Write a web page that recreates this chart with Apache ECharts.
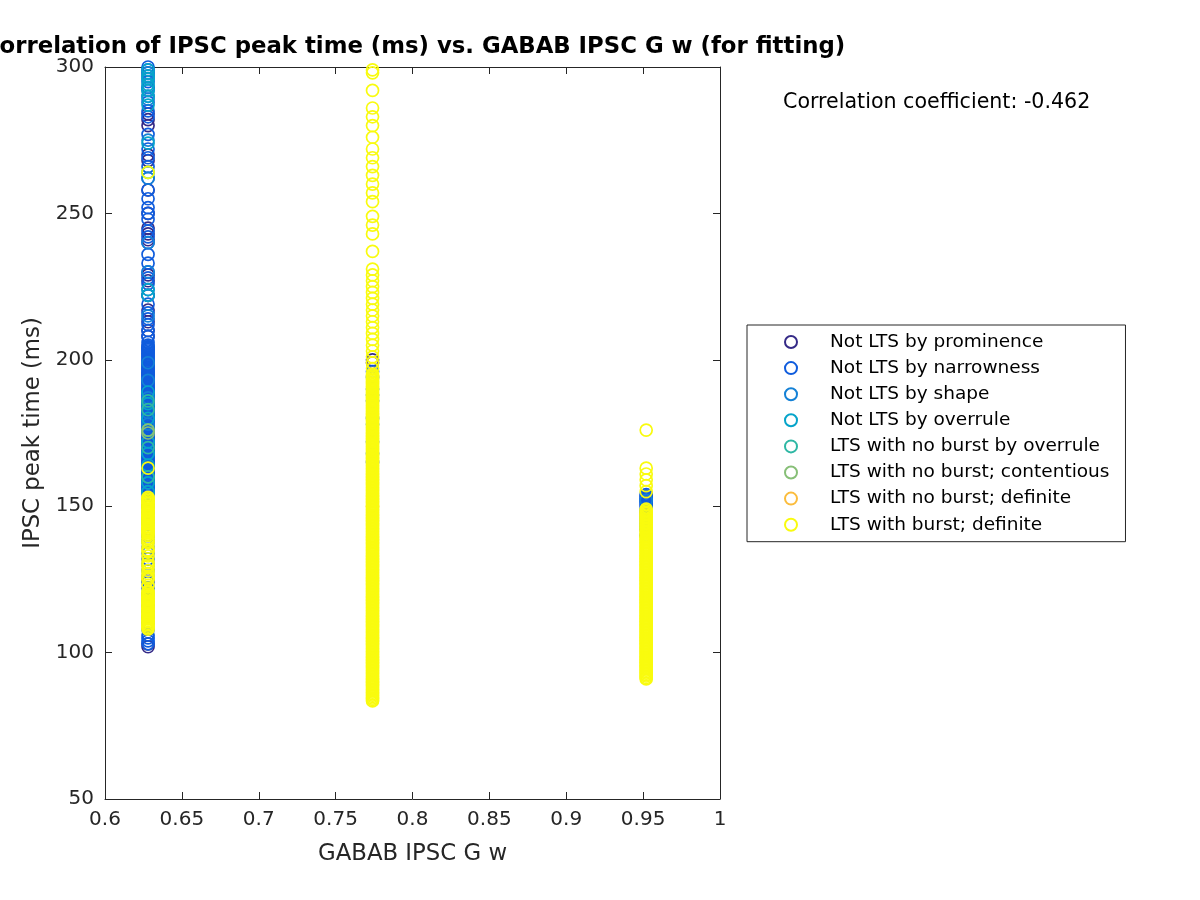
<!DOCTYPE html>
<html>
<head>
<meta charset="utf-8">
<script src="https://cdn.jsdelivr.net/npm/echarts@6/dist/echarts.min.js"></script>
<style>html,body{margin:0;padding:0;background:#fff;}#c{width:1200px;height:900px;}</style>
</head>
<body>
<div id="c"></div>
<script>
// x positions of the three columns (GABAB IPSC G w)
const xCols = [0.628, 0.774, 0.952];
const xTicks = [0.6, 0.65, 0.7, 0.75, 0.8, 0.85, 0.9, 0.95, 1];
const yTicks = [50, 100, 150, 200, 250, 300];

const seriesNames = [
  'Not LTS by prominence',
  'Not LTS by narrowness',
  'Not LTS by shape',
  'Not LTS by overrule',
  'LTS with no burst by overrule',
  'LTS with no burst; contentious',
  'LTS with no burst; definite',
  'LTS with burst; definite'
];
const seriesColors = ['#352a87', '#0f5cdd', '#1481d6', '#06a4ca', '#2eb7a4', '#87bf77', '#fbbc3c', '#f9fb0e'];

// IPSC peak time (ms) values per class, per column
const prominence = [
  [284, 282, 280, 270, 268, 258, 250, 245, 243, 241, 229, 227, 222, 217, 213, 210, 208, 204, 197, 195, 190, 185, 176, 165, 150, 140, 125, 103, 102],
  [200, 199],
  []
];
const narrowness = [
  [300, 299, 298, 297, 295, 293, 292, 290, 288, 285, 283, 277, 272, 269, 266, 262, 258, 255, 252, 250, 248, 244, 242, 240, 236, 233, 230, 228, 226, 224, 222, 219, 216, 214, 212, 210, 208, 206,
   205, 204.5, 204, 203.5, 203, 202.5, 202, 201.5, 201, 200.5, 200, 199.5, 199, 198.5, 198, 197.5, 197, 196.5, 196, 195.5,
   195, 194.5, 194, 193.5, 193, 192.5, 192, 191.5, 191, 190.5, 190, 189.5, 189, 188.5, 188, 187.5, 187, 186.5, 186, 185.5,
   185, 184.5, 184, 183.5, 183, 182.5, 182, 181.5, 181, 180.5, 180, 179.5, 179, 178.5, 178, 177.5, 177, 176.5, 176, 175.5,
   175, 174.5, 174, 173.5, 173, 172.5, 172, 171.5, 171, 170.5, 170, 169.5, 169, 168.5, 168, 167.5, 167, 166.5, 166, 165.5,
   165, 164.5, 164, 163.5, 163, 162.5, 162, 161.5, 161, 160.5, 160, 159.5, 159, 158.5, 158, 157.5, 157, 156.5, 156, 155.5,
   155, 154, 152, 150, 148, 146, 144, 142, 140, 138, 136, 134, 132, 130, 128, 126, 124, 122, 120, 118, 116, 114, 112, 110, 108, 106, 105, 104, 103],
  [196, 194, 190, 186, 180, 172, 165],
  [154, 153.5, 153, 152.5, 152, 151.5, 151, 150.5, 150, 149, 148, 147, 146, 145, 144, 142, 140]
];
const shape = [
  [298, 296, 293, 289, 275, 262, 240, 230, 215, 199, 193, 187, 182, 178, 172, 168, 163, 158, 155, 150, 145, 138, 130, 120, 112],
  [188, 178, 168],
  [152, 148, 143]
];
const overrule = [
  [299, 297, 296, 294, 292, 290, 287, 274, 264, 224, 222, 189, 185, 180, 176, 172, 168, 164, 160, 158, 155],
  [],
  []
];
const noBurstOverrule = [
  [186, 183, 176, 170, 160],
  [],
  []
];
const contentious = [
  [176, 175],
  [],
  []
];
const noBurstDefinite = [
  [142],
  [150],
  [147.5]
];
const burst = [
  [264, 163,
   153, 152.5, 152, 151.5, 151, 150.5, 150, 149.5, 149, 148.5, 148, 147.5, 147, 146.5, 146, 145.5, 145, 144.5, 144, 143.5,
   143, 142.5, 142, 141.5, 141, 140.5, 140, 139, 138, 137.5, 136, 135, 134.5, 133, 131, 130, 129.5, 128, 127, 126, 125.5,
   125, 123, 121, 120.5, 120, 119.5, 119, 118.5, 118, 117.5, 117, 116.5, 116, 115.5, 115, 114.5, 114, 113.5, 113, 112.5,
   112, 111.5, 111, 110.5, 110, 109.5, 109, 108.5, 108],
  [299, 298, 292, 286, 283, 280, 276, 272, 269, 266, 263, 260, 257, 254, 249, 246, 243, 237, 231, 229, 227, 225, 223, 221, 219, 217, 215, 213, 211, 209, 207, 205, 203, 201, 199, 197,
   195, 194.5, 194, 193.5, 193, 192.5, 192, 191.5, 191, 190.5, 190, 189.5, 189, 188.5, 188, 187.5, 187, 186.5, 186, 185.5,
   185, 184.5, 184, 183.5, 183, 182.5, 182, 181.5, 181, 180.5, 180, 179.5, 179, 178.5, 178, 177.5, 177, 176.5, 176, 175.5,
   175, 174.5, 174, 173.5, 173, 172.5, 172, 171.5, 171, 170.5, 170, 169.5, 169, 168.5, 168, 167.5, 167, 166.5, 166, 165.5,
   165, 164.5, 164, 163.5, 163, 162.5, 162, 161.5, 161, 160.5, 160, 159.5, 159, 158.5, 158, 157.5, 157, 156.5, 156, 155.5,
   155, 154.5, 154, 153.5, 153, 152.5, 152, 151.5, 151, 150.5, 150, 149.5, 149, 148.5, 148, 147.5, 147, 146.5, 146, 145.5,
   145, 144.5, 144, 143.5, 143, 142.5, 142, 141.5, 141, 140.5, 140, 139.5, 139, 138.5, 138, 137.5, 137, 136.5, 136, 135.5,
   135, 134.5, 134, 133.5, 133, 132.5, 132, 131.5, 131, 130.5, 130, 129.5, 129, 128.5, 128, 127.5, 127, 126.5, 126, 125.5,
   125, 124.5, 124, 123.5, 123, 122.5, 122, 121.5, 121, 120.5, 120, 119.5, 119, 118.5, 118, 117.5, 117, 116.5, 116, 115.5,
   115, 114.5, 114, 113.5, 113, 112.5, 112, 111.5, 111, 110.5, 110, 109.5, 109, 108.5, 108, 107.5, 107, 106.5, 106, 105.5,
   105, 104.5, 104, 103.5, 103, 102.5, 102, 101.5, 101, 100.5, 100, 99.5, 99, 98.5, 98, 97.5, 97, 96.5, 96, 95.5,
   95, 94.5, 94, 93.5, 93, 92.5, 92, 91.5, 91, 90.5, 90, 89.5, 89, 88.5, 88, 87.5, 87, 86.5, 86, 85.5,
   85, 84.5, 84, 83.5],
  [176, 163, 161, 159, 157, 155,
   149, 148.5, 148, 147.5, 147, 146.5, 146, 145.5, 145, 144.5, 144, 143.5, 143, 142.5, 142, 141.5, 141, 140.5, 140, 139.5,
   139, 138.5, 138, 137.5, 137, 136.5, 136, 135.5, 135, 134.5, 134, 133.5, 133, 132.5, 132, 131.5, 131, 130.5, 130, 129.5,
   129, 128.5, 128, 127.5, 127, 126.5, 126, 125.5, 125, 124.5, 124, 123.5, 123, 122.5, 122, 121.5, 121, 120.5, 120, 119.5,
   119, 118.5, 118, 117.5, 117, 116.5, 116, 115.5, 115, 114.5, 114, 113.5, 113, 112.5, 112, 111.5, 111, 110.5, 110, 109.5,
   109, 108.5, 108, 107.5, 107, 106.5, 106, 105.5, 105, 104.5, 104, 103.5, 103, 102.5, 102, 101.5, 101, 100.5, 100, 99.5,
   99, 98.5, 98, 97.5, 97, 96.5, 96, 95.5, 95, 94.5, 94, 93.5, 93, 92.5, 92, 91.5, 91]
];
const corrText = 'Correlation coefficient: -0.462';
const titleText = 'Correlation of IPSC peak time (ms) vs. GABAB IPSC G w (for fitting)';

const classData = [prominence, narrowness, shape, overrule, noBurstOverrule, contentious, noBurstDefinite, burst];

const FONT = 'DejaVu Sans';
const TXT = '#262626';

const series = classData.map((cols, i) => {
  const data = [];
  cols.forEach((vals, c) => vals.forEach(v => data.push([xCols[c], v])));
  return {
    name: seriesNames[i],
    type: 'scatter',
    data: data,
    symbol: 'circle',
    symbolSize: 12,
    clip: false,
    itemStyle: { color: 'rgba(0,0,0,0)', borderColor: seriesColors[i], borderWidth: 1.7, opacity: 1 },
    emphasis: { disabled: true },
    z: 2 + i
  };
});

const chart = echarts.init(document.getElementById('c'), null, { renderer: 'canvas' });
const axisCommon = {
  axisLine: { show: true, onZero: false, lineStyle: { color: TXT, width: 1 } },
  axisTick: { show: true, inside: true, length: 7, lineStyle: { color: TXT } },
  splitLine: { show: false }
};
chart.setOption({
  animation: false,
  backgroundColor: '#ffffff',
  grid: { left: 105, right: 480, top: 67, bottom: 101, containLabel: false },
  xAxis: [
    Object.assign({
      type: 'value', min: xTicks[0], max: xTicks[xTicks.length - 1], interval: 0.05, position: 'bottom',
      name: 'GABAB IPSC G w', nameLocation: 'middle', nameGap: 44,
      nameTextStyle: { fontFamily: FONT, fontSize: 22.8, color: TXT },
      axisLabel: { fontFamily: FONT, fontSize: 20, color: TXT, margin: 11,
        formatter: v => { const t = xTicks.find(k => Math.abs(k - v) < 1e-9); return t === undefined ? '' : String(t); } }
    }, axisCommon),
    Object.assign({
      type: 'value', min: xTicks[0], max: xTicks[xTicks.length - 1], interval: 0.05, position: 'top',
      axisLabel: { show: false }
    }, axisCommon)
  ],
  yAxis: [
    Object.assign({
      type: 'value', min: yTicks[0], max: yTicks[yTicks.length - 1], interval: 50, position: 'left',
      name: 'IPSC peak time (ms)', nameLocation: 'middle', nameGap: 56, nameRotate: 90,
      nameTextStyle: { fontFamily: FONT, fontSize: 22.8, color: TXT },
      axisLabel: { fontFamily: FONT, fontSize: 20, color: TXT, margin: 11 }
    }, axisCommon),
    Object.assign({
      type: 'value', min: yTicks[0], max: yTicks[yTicks.length - 1], interval: 50, position: 'right',
      axisLabel: { show: false }
    }, axisCommon)
  ],
  legend: {
    orient: 'vertical', left: 747, top: 325,
    padding: [7, 16, 7, 37],
    borderColor: TXT, borderWidth: 1, borderRadius: 0,
    backgroundColor: '#ffffff',
    itemWidth: 68, itemHeight: 12, itemGap: 6.1,
    icon: 'circle',
    textStyle: { fontFamily: FONT, fontSize: 18.5, color: '#000', lineHeight: 20 },
    data: seriesNames,
    selectedMode: false
  },
  graphic: [
    { type: 'text', x: 414, y: 47, style: { text: titleText, font: 'bold 22.8px "DejaVu Sans"', fill: '#000', align: 'center', verticalAlign: 'middle' } },
    { type: 'text', x: 783, y: 103, style: { text: corrText, font: '20.6px "DejaVu Sans"', fill: '#000', align: 'left', verticalAlign: 'middle' } }
  ],
  series: series
});
</script>
</body>
</html>
